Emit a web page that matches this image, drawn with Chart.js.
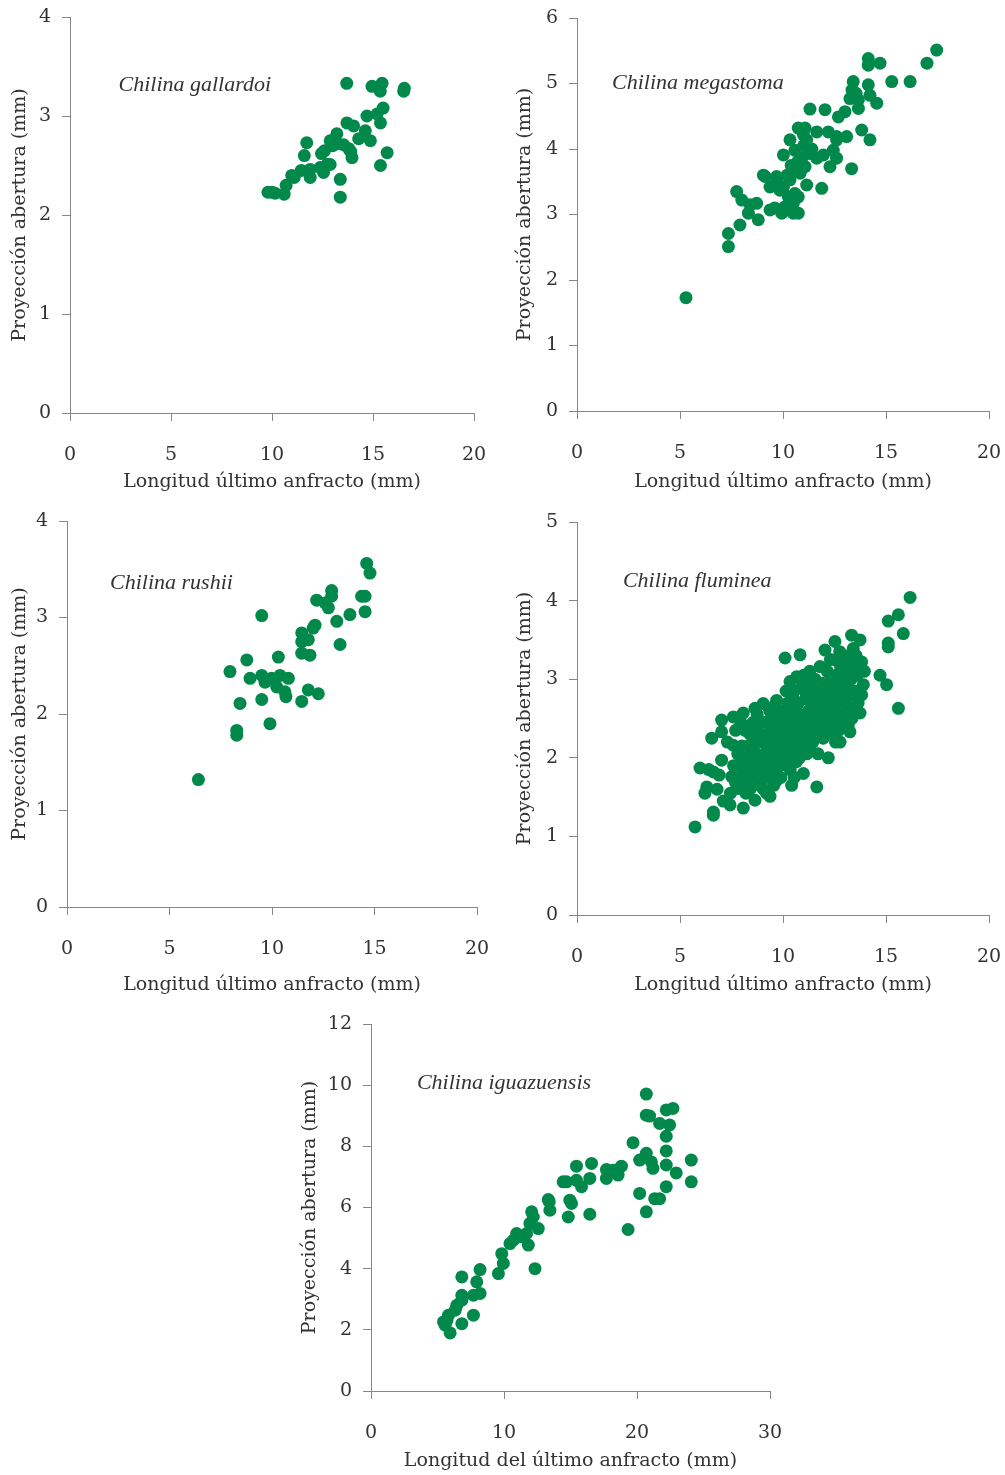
<!DOCTYPE html>
<html>
<head>
<meta charset="utf-8">
<script src="https://cdn.jsdelivr.net/npm/chart.js@4.4.1/dist/chart.umd.min.js"></script>
<style>
  body { margin: 0; background: #fff; width: 1005px; height: 1475px; position: relative; overflow: hidden; }
  .box { position: absolute; }
</style>
</head>
<body>
<div class="box" style="left:0;top:-13px;width:514px;height:513px"><canvas id="c1"></canvas></div>
<div class="box" style="left:505px;top:-12px;width:524px;height:512px"><canvas id="c2"></canvas></div>
<div class="box" style="left:0;top:491px;width:517px;height:509px"><canvas id="c3"></canvas></div>
<div class="box" style="left:505px;top:492px;width:524px;height:508px"><canvas id="c4"></canvas></div>
<div class="box" style="left:290px;top:994px;width:520px;height:481px"><canvas id="c5"></canvas></div>
<script>
// points: [longitud último anfracto, proyección abertura] in mm
const gallardoi = [
  [9.8,2.23],[10.0,2.23],[10.15,2.22],[10.6,2.21],[10.7,2.3],[10.98,2.4],[11.1,2.38],[11.45,2.45],
  [11.6,2.6],[11.72,2.73],[11.89,2.46],[11.89,2.38],[12.38,2.48],[12.45,2.62],[12.55,2.43],[12.6,2.65],
  [12.72,2.51],[12.88,2.51],[12.88,2.75],[13.0,2.7],[13.21,2.82],[13.2,2.72],[13.38,2.36],[13.38,2.18],
  [13.54,2.71],[13.7,3.33],[13.71,2.93],[13.8,2.67],[13.9,2.64],[13.96,2.58],[14.04,2.9],[14.29,2.77],
  [14.62,2.85],[14.7,3.0],[14.87,2.75],[14.95,3.3],[15.2,3.02],[15.37,2.93],[15.36,3.25],[15.45,3.33],
  [15.37,2.5],[15.5,3.08],[15.7,2.63],[16.52,3.25],[16.55,3.28]
];
const megastoma = [
  [5.29,1.73],[7.35,2.71],[7.35,2.51],[7.91,2.84],[7.75,3.35],[8.0,3.22],[8.4,3.15],[8.72,3.17],
  [8.32,3.02],[8.8,2.92],[9.13,3.58],[9.37,3.42],[9.69,3.58],[9.37,3.07],[9.94,3.02],[10.5,3.02],
  [10.74,3.02],[10.5,3.17],[10.74,3.27],[10.02,3.42],[10.02,3.91],[10.34,4.14],[10.74,4.32],[11.07,4.32],
  [11.15,4.14],[10.58,3.98],[10.91,3.86],[11.07,3.73],[10.5,3.68],[10.34,3.53],[10.83,3.63],[11.15,3.45],
  [11.88,3.4],[11.64,4.26],[11.96,3.91],[12.2,4.26],[12.6,4.19],[12.44,3.98],[12.6,3.86],[13.09,4.19],
  [13.33,3.7],[12.04,4.6],[11.31,4.61],[12.69,4.49],[13.01,4.57],[13.25,4.77],[13.66,4.62],[13.66,4.75],
  [13.41,5.03],[14.14,4.98],[14.22,4.82],[14.55,4.7],[13.82,4.29],[14.22,4.14],[14.14,5.38],[14.71,5.31],
  [14.14,5.28],[15.28,5.03],[16.17,5.03],[16.99,5.31],[17.46,5.51],[13.35,4.9],[13.55,4.85],[9.05,3.6],
  [9.69,3.53],[9.85,3.37],[10.26,3.27],[10.58,3.32],[10.1,3.12],[11.31,3.93],[11.64,3.86],[12.28,3.73],
  [12.6,4.14],[10.99,4.22],[10.7,3.8],[11.0,4.05],[10.4,3.75],[11.4,4.0],[10.2,3.6],[9.6,3.1]
];
const rushii = [
  [6.41,1.32],[8.28,1.83],[8.28,1.78],[9.9,1.9],[8.44,2.11],[9.5,2.15],[7.95,2.44],[8.77,2.56],
  [8.93,2.37],[9.5,2.4],[9.66,2.33],[9.5,3.02],[10.31,2.59],[9.98,2.37],[10.39,2.4],[10.8,2.37],
  [10.23,2.28],[10.63,2.23],[10.68,2.18],[11.45,2.13],[11.77,2.25],[12.26,2.21],[11.45,2.84],[11.45,2.75],
  [11.45,2.63],[11.77,2.77],[11.85,2.61],[12.01,2.89],[12.1,2.92],[12.18,3.18],[12.59,3.15],[12.75,3.1],
  [12.91,3.28],[12.91,3.22],[13.32,2.72],[13.16,2.96],[13.8,3.03],[14.37,3.22],[14.54,3.22],[14.54,3.06],
  [14.62,3.56],[14.78,3.46]
];
const fluminea = [
  [5.73,1.12],[5.97,1.87],[6.21,1.55],[6.3,1.63],[6.62,1.27],[6.62,1.31],[6.62,1.82],[6.54,2.25],
  [6.9,1.78],[6.4,1.85],[7.02,1.97],[7.02,2.33],[7.02,2.48],[6.8,1.6],[7.1,1.45],
  [7.43,1.4],[7.51,1.76],[7.59,2.16],[7.59,2.52],[7.83,1.61],[7.3,2.2],[7.6,1.9],[7.8,2.05],
  [7.9,1.75],[7.7,2.35],[7.45,1.55],[7.95,2.45],[7.7,1.68],
  [8.07,1.36],[8.07,2.57],[8.64,1.46],[8.64,2.63],[8.88,1.65],[8.1,1.85],[8.2,2.0],[8.3,2.15],
  [8.25,1.7],[8.4,2.3],[8.5,1.9],[8.5,2.1],[8.6,1.75],[8.7,2.4],[8.8,2.0],[8.9,2.2],[8.4,1.6],
  [8.75,2.55],[8.15,2.35],[8.95,1.85],[8.55,2.25],
  [9.04,2.69],[9.37,1.51],[9.53,1.82],[9.69,2.73],[9.1,2.05],[9.2,1.75],[9.25,2.3],[9.3,1.95],
  [9.4,2.15],[9.45,2.5],[9.5,2.0],[9.6,2.35],[9.65,1.7],[9.7,2.2],[9.8,2.45],[9.85,1.9],[9.9,2.6],
  [9.95,2.1],[9.15,2.45],[9.35,2.6],[9.55,2.65],[9.75,2.05],[9.05,1.6],
  [10.1,3.27],[10.18,1.91],[10.34,2.97],[10.42,1.65],[10.66,3.03],[10.83,3.31],[10.99,1.8],[10.05,2.3],
  [10.1,2.55],[10.2,2.15],[10.25,2.7],[10.3,2.4],[10.4,2.05],[10.45,2.6],[10.5,2.25],[10.55,2.85],
  [10.6,2.45],[10.7,2.1],[10.75,2.7],[10.8,2.35],[10.85,2.55],[10.9,2.9],[10.95,2.2],[10.15,2.85],
  [10.35,1.85],[10.65,1.95],[10.5,2.75],
  [11.31,2.08],[11.64,1.63],[11.8,3.16],[11.05,2.5],[11.1,2.75],[11.15,2.3],[11.2,2.95],[11.25,2.6],
  [11.35,2.45],[11.4,2.85],[11.45,2.2],[11.5,2.7],[11.55,3.0],[11.6,2.5],[11.7,2.35],[11.75,2.8],
  [11.85,2.6],[11.9,2.95],[11.95,2.25],[11.2,2.15],[11.65,2.9],[11.0,3.05],[11.3,3.1],
  [12.04,3.37],[12.2,2.0],[12.52,3.48],[12.61,3.24],[12.77,2.2],[12.05,2.65],[12.1,2.85],[12.15,3.1],
  [12.25,2.5],[12.3,2.75],[12.35,3.0],[12.4,2.35],[12.45,2.9],[12.5,2.6],[12.6,3.05],[12.65,2.45],
  [12.7,2.8],[12.8,3.15],[12.85,2.55],[12.9,2.95],[12.95,3.3],[12.3,3.25],[12.55,2.2],[12.75,3.35],
  [13.09,2.67],[13.17,2.42],[13.25,2.8],[13.25,2.33],[13.33,3.56],[13.41,3.39],[13.74,3.5],[13.74,2.57],
  [13.82,3.22],[13.82,2.8],[13.9,2.93],[13.05,3.1],[13.1,2.9],[13.2,3.25],[13.3,3.0],[13.4,3.15],
  [13.5,2.85],[13.55,3.3],[13.6,3.05],[13.65,2.7],[13.7,3.2],[13.45,2.6],[13.95,3.1],[13.35,2.5],
  [14.71,3.05],[15.03,2.93],[15.6,2.63],[15.11,3.46],[15.11,3.41],[15.84,3.58],[15.11,3.74],[15.6,3.82],
  [16.17,4.04],
  // dense core
  [8.35,1.78],[8.45,1.98],[8.6,2.08],[8.8,1.78],[8.85,2.3],[9.0,1.95],[9.1,2.2],[9.2,1.55],
  [9.25,2.1],[9.35,1.8],[9.45,2.3],[9.55,1.65],[9.6,2.55],[9.7,1.95],[9.8,2.25],[9.9,1.75],
  [10.0,2.45],[10.05,2.0],[10.15,2.3],[10.25,1.95],[10.35,2.5],[10.45,2.2],[10.55,1.75],[10.6,2.6],
  [10.7,2.3],[10.8,2.0],[10.9,2.5],[11.0,2.3],[11.05,2.85],[11.15,2.05],[11.25,2.4],[11.3,2.75],
  [11.4,2.55],[11.5,2.35],[11.6,2.75],[11.7,2.05],[11.8,2.45],[11.9,2.7],[12.0,2.45],[12.1,2.3],
  [12.2,2.7],[12.35,2.55],[12.5,2.85],[12.6,2.7],[12.7,2.35],[12.85,2.75],[13.0,2.55],[13.15,3.0],
  [8.0,2.15],[8.2,1.55],[7.85,1.9],[9.0,2.45],[8.55,2.45],[9.4,2.45]
];
const iguazuensis = [
  [5.95,1.9],[5.58,2.15],[5.7,2.31],[5.83,2.48],[5.45,2.26],[6.33,2.64],[6.45,2.8],[6.83,2.2],
  [6.83,2.97],[6.83,3.13],[6.83,3.73],[7.7,2.48],[7.7,3.13],[7.95,3.57],[8.2,3.19],[8.2,3.97],
  [9.58,3.84],[9.95,4.17],[9.83,4.49],[10.45,4.82],[10.7,4.93],[10.95,5.15],[11.2,5.04],[11.7,5.15],
  [11.83,4.77],[12.33,4.0],[11.95,5.48],[12.08,5.86],[12.2,5.69],[12.58,5.31],[13.45,5.91],[13.33,6.26],
  [13.4,6.19],[14.45,6.84],[14.7,6.84],[14.83,5.69],[14.95,6.24],[15.08,6.13],[15.45,7.35],[15.45,6.89],
  [15.83,6.68],[16.45,6.95],[16.45,5.78],[16.58,7.44],[17.7,7.24],[18.2,7.22],[18.58,7.06],[17.7,6.95],
  [18.83,7.35],[19.33,5.28],[19.7,8.12],[20.2,7.55],[20.2,6.46],[20.7,7.77],[21.08,7.49],[21.2,7.28],
  [20.7,5.86],[20.7,9.71],[20.7,9.02],[20.95,8.99],[21.33,6.29],[21.7,6.29],[21.7,8.75],[22.2,9.19],
  [22.7,9.24],[22.45,8.7],[22.2,8.33],[22.2,7.85],[22.2,7.39],[22.2,6.68],[22.95,7.13],[24.08,7.55],
  [24.08,6.84]
];

const FONT = '"DejaVu Serif", serif';
const LABEL_FONT = 'italic 22px "Liberation Serif", serif';
const TEXT = '#333';
const AXIS = '#888';
const GREEN = '#00894a';

const speciesLabel = {
  id: 'speciesLabel',
  afterDatasetsDraw(chart, args, opts) {
    const { ctx, scales: { x, y } } = chart;
    ctx.save();
    ctx.font = LABEL_FONT;
    ctx.fillStyle = TEXT;
    ctx.textBaseline = 'middle';
    ctx.fillText(opts.text, x.getPixelForValue(opts.x), y.getPixelForValue(opts.y));
    ctx.restore();
  }
};

function makeChart(id, pts, c) {
  new Chart(document.getElementById(id), {
    type: 'scatter',
    data: {
      datasets: [{
        data: pts.map(p => ({ x: p[0], y: p[1] })),
        backgroundColor: GREEN,
        borderWidth: 0,
        pointRadius: 6.5
      }]
    },
    plugins: [speciesLabel],
    options: {
      responsive: true,
      maintainAspectRatio: false,
      animation: false,
      layout: { padding: { top: 30, right: 40, left: 0, bottom: 0 } },
      plugins: {
        legend: { display: false },
        tooltip: { enabled: false },
        speciesLabel: { text: c.label, x: c.lx, y: c.ly }
      },
      scales: {
        x: {
          type: 'linear', min: 0, max: c.xMax,
          ticks: { stepSize: c.xStep, padding: 23, color: TEXT, font: { family: FONT, size: 19 } },
          grid: { drawOnChartArea: false, tickLength: 8, color: AXIS },
          border: { color: AXIS },
          title: { display: true, text: c.xTitle, color: TEXT, font: { family: FONT, size: 19 },
                   padding: { top: 0, bottom: c.tb } },
          afterFit(s) { s.height = c.xH; }
        },
        y: {
          type: 'linear', min: 0, max: c.yMax,
          ticks: { stepSize: c.yStep, padding: 11, color: TEXT, font: { family: FONT, size: 19 } },
          grid: { drawOnChartArea: false, tickLength: 8, color: AXIS },
          border: { color: AXIS },
          title: { display: true, text: 'Proyección abertura (mm)', color: TEXT, font: { family: FONT, size: 19 },
                   padding: { top: 9, bottom: 0 } },
          afterFit(s) { s.width = c.yW; }
        }
      }
    }
  });
}

const XT = 'Longitud último anfracto (mm)';
makeChart('c1', gallardoi, { xMax: 20, xStep: 5, yMax: 4, yStep: 1, yW: 70, xH: 87, tb: 7,
  xTitle: XT, label: 'Chilina gallardoi', lx: 2.4, ly: 3.31 });
makeChart('c2', megastoma, { xMax: 20, xStep: 5, yMax: 6, yStep: 1, yW: 72, xH: 89, tb: 7,
  xTitle: XT, label: 'Chilina megastoma', lx: 1.7, ly: 5.0 });
makeChart('c3', rushii, { xMax: 20, xStep: 5, yMax: 4, yStep: 1, yW: 67, xH: 93, tb: 4,
  xTitle: XT, label: 'Chilina rushii', lx: 2.1, ly: 3.36 });
makeChart('c4', fluminea, { xMax: 20, xStep: 5, yMax: 5, yStep: 1, yW: 72, xH: 85, tb: 4,
  xTitle: XT, label: 'Chilina fluminea', lx: 2.23, ly: 4.25 });
makeChart('c5', iguazuensis, { xMax: 30, xStep: 10, yMax: 12, yStep: 2, yW: 81, xH: 84, tb: 3,
  xTitle: 'Longitud del último anfracto (mm)', label: 'Chilina iguazuensis', lx: 3.45, ly: 10.07 });
</script>
</body>
</html>
